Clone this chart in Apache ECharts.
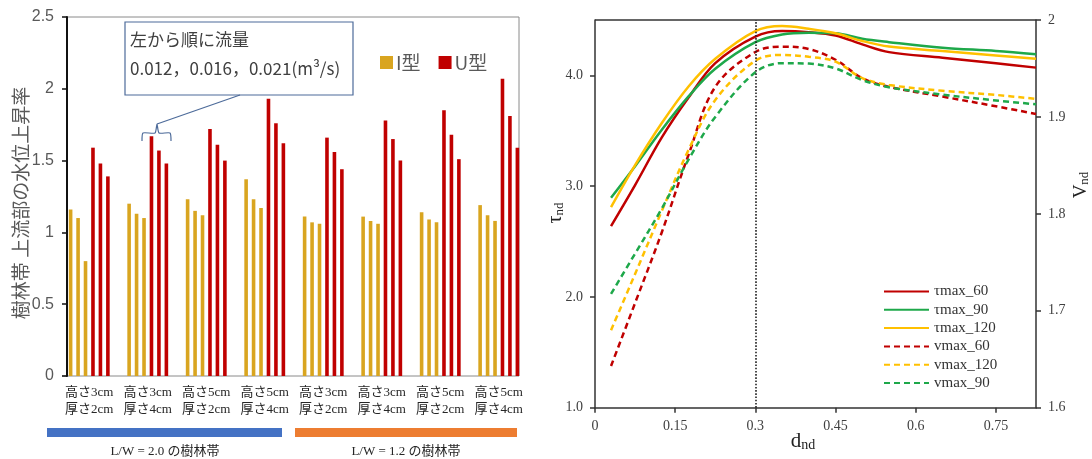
<!DOCTYPE html>
<html>
<head>
<meta charset="utf-8">
<script src="https://cdn.jsdelivr.net/npm/echarts@6/dist/echarts.min.js"></script>
<style>
	body { margin: 0; background: #fff; }
	#main { width: 1092px; height: 459px; }
</style>
</head>
<body>
<div id="main"></div>
<script>
// 左：樹林帯ごとの水位上昇率（流量 0.012, 0.016, 0.021 の順）
const groupLabels = ['高さ3cm\n厚さ2cm', '高さ3cm\n厚さ4cm', '高さ5cm\n厚さ2cm', '高さ5cm\n厚さ4cm',
	'高さ3cm\n厚さ2cm', '高さ3cm\n厚さ4cm', '高さ5cm\n厚さ2cm', '高さ5cm\n厚さ4cm']
const iType = [[1.16, 1.10, 0.80], [1.20, 1.13, 1.10], [1.23, 1.15, 1.12], [1.37, 1.23, 1.17],
	[1.11, 1.07, 1.06], [1.11, 1.08, 1.06], [1.14, 1.09, 1.07], [1.19, 1.12, 1.08]]
const uType = [[1.59, 1.48, 1.39], [1.67, 1.57, 1.48], [1.72, 1.61, 1.50], [1.93, 1.76, 1.62],
	[1.66, 1.56, 1.44], [1.78, 1.65, 1.50], [1.85, 1.68, 1.51], [2.07, 1.81, 1.59]]
const leftTicks = [0, 0.5, 1, 1.5, 2, 2.5]

// 右：d_nd に対する τ_nd と V_nd
const dnd = [0.03, 0.075, 0.125, 0.175, 0.225, 0.3, 0.35, 0.4, 0.45, 0.5, 0.55, 0.65, 0.75, 0.825]
const tau60 = [2.64, 3.01, 3.44, 3.80, 4.11, 4.35, 4.40, 4.39, 4.36, 4.28, 4.21, 4.16, 4.11, 4.07]
const tau90 = [2.895, 3.18, 3.51, 3.81, 4.06, 4.30, 4.37, 4.385, 4.38, 4.33, 4.30, 4.25, 4.22, 4.19]
const tau120 = [2.81, 3.19, 3.57, 3.90, 4.15, 4.40, 4.445, 4.42, 4.38, 4.31, 4.26, 4.22, 4.18, 4.15]
const v60 = [1.643, 1.708, 1.781, 1.861, 1.931, 1.967, 1.9725, 1.970, 1.959, 1.940, 1.931, 1.921, 1.911, 1.903]
const v120 = [1.680, 1.738, 1.803, 1.866, 1.9175, 1.958, 1.964, 1.962, 1.957, 1.940, 1.933, 1.927, 1.9227, 1.9186]
const v90 = [1.7175, 1.759, 1.8055, 1.856, 1.90, 1.946, 1.9555, 1.955, 1.950, 1.938, 1.9306, 1.923, 1.917, 1.913]

const gold = '#d9a520'
const darkRed = '#c00000'
const cRed = '#c00000'
const cGreen = '#1ea84a'
const cYellow = '#ffc000'
const serif = 'Liberation Serif, Noto Sans CJK JP'
const jp = 'Noto Sans CJK JP'

let myChart = echarts.init(document.getElementById('main'))

function pair(ys) {
	return dnd.map(function(x, i) { return [x, ys[i]] })
}

let series = []
for (let f = 0; f < 3; f++) {
	series.push({
		name: 'I型', type: 'bar', xAxisIndex: 0, yAxisIndex: 0,
		barWidth: 3.6, barGap: '107%',
		itemStyle: { color: gold },
		data: iType.map(function(g) { return g[f] })
	})
}
for (let f = 0; f < 3; f++) {
	series.push({
		name: 'U型', type: 'bar', xAxisIndex: 0, yAxisIndex: 0,
		barWidth: 3.6, barGap: '107%',
		itemStyle: { color: darkRed },
		data: uType.map(function(g) { return g[f] })
	})
}

function line(name, data, color, dashed, axis) {
	return {
		name: name, type: 'line', xAxisIndex: 1, yAxisIndex: axis,
		smooth: 0.35, symbol: 'none',
		lineStyle: { color: color, width: 2.5, type: dashed ? [6, 4] : 'solid' },
		itemStyle: { color: color },
		data: pair(data)
	}
}
let tauLine60 = line('τmax_60', tau60, cRed, false, 1)
tauLine60.markLine = {
	silent: true, symbol: 'none', label: { show: false },
	lineStyle: { color: '#222', type: 'dotted', width: 1.6 },
	data: [{ xAxis: 0.3 }]
}
series.push(tauLine60)
series.push(line('τmax_90', tau90, cGreen, false, 1))
series.push(line('τmax_120', tau120, cYellow, false, 1))
series.push(line('vmax_60', v60, cRed, true, 2))
series.push(line('vmax_120', v120, cYellow, true, 2))
series.push(line('vmax_90', v90, cGreen, true, 2))

const boxColor = '#4d6b9a'

var option = {
	animation: false,
	backgroundColor: '#fff',
	grid: [
		{ left: 60, top: 17, width: 468, height: 359 },
		{ left: 595, top: 20, width: 441, height: 387.7 }
	],
	legend: [{
		data: ['I型', 'U型'],
		left: 375, top: 48,
		icon: 'rect', itemWidth: 13, itemHeight: 13, itemGap: 18,
		textStyle: { fontFamily: jp, fontSize: 19, color: '#595959', padding: [0, 0, 0, -2] }
	}, {
		data: ['τmax_60', 'τmax_90', 'τmax_120', 'vmax_60', 'vmax_120', 'vmax_90'],
		orient: 'vertical', left: 878, top: 279,
		itemWidth: 45, itemHeight: 14, itemGap: 3.3,
		itemStyle: { opacity: 0 },
		textStyle: { fontFamily: serif, fontSize: 15, color: '#333' }
	}],
	xAxis: [{
		type: 'category', gridIndex: 0,
		data: groupLabels,
		axisLine: { show: false },
		axisTick: { show: false },
		axisLabel: { interval: 0, margin: 8, fontFamily: serif, fontSize: 13, lineHeight: 17, color: '#262626' }
	}, {
		type: 'value', gridIndex: 1,
		min: 0, max: 0.825, interval: 0.15,
		splitLine: { show: false },
		axisLine: { lineStyle: { color: '#333', width: 1.5 } },
		axisTick: { length: 5, lineStyle: { color: '#333', width: 1.5 } },
		axisLabel: { showMaxLabel: false, margin: 12, fontFamily: serif, fontSize: 14, color: '#404040' }
	}],
	yAxis: [{
		type: 'value', gridIndex: 0, offset: -7,
		min: leftTicks[0], max: leftTicks[leftTicks.length - 1], interval: 0.5,
		splitLine: { show: false },
		axisLine: { show: true, lineStyle: { color: '#111', width: 2 } },
		axisTick: { show: true, length: 5, lineStyle: { color: '#111', width: 1.5 } },
		axisLabel: { margin: 13, fontFamily: 'Liberation Sans', fontSize: 16, color: '#595959' }
	}, {
		type: 'value', gridIndex: 1,
		min: 1, max: 4.5, interval: 1,
		splitLine: { show: false },
		axisLine: { show: true, lineStyle: { color: '#333', width: 1.5 } },
		axisTick: { show: true, length: 5, lineStyle: { color: '#333', width: 1.5 } },
		axisLabel: {
			showMaxLabel: false, margin: 12, fontFamily: serif, fontSize: 14, color: '#404040',
			formatter: function(v) { return v.toFixed(1) }
		}
	}, {
		type: 'value', gridIndex: 1, position: 'right',
		min: 1.6, max: 2.0, interval: 0.1,
		splitLine: { show: false },
		axisLine: { show: true, lineStyle: { color: '#333', width: 1.5 } },
		axisTick: { show: true, length: 5, lineStyle: { color: '#333', width: 1.5 } },
		axisLabel: { margin: 12, fontFamily: serif, fontSize: 14, color: '#404040' }
	}],
	graphic: [
		// 左グラフの枠
		{ type: 'polyline', silent: true, shape: { points: [[62, 376], [519, 376], [519, 17], [67, 17]] },
			style: { stroke: '#8a8a8a', lineWidth: 1, fill: null } },
		{ type: 'text', silent: true, x: 21, y: 203, rotation: Math.PI / 2,
			style: { text: '樹林帯 上流部の水位上昇率', font: '19px "Noto Sans CJK JP"', fill: '#595959', align: 'center', verticalAlign: 'middle' } },
		// 吹き出し
		{ type: 'rect', silent: true, shape: { x: 125, y: 22, width: 228, height: 73 },
			style: { fill: '#fff', stroke: boxColor, lineWidth: 1.2 } },
		{ type: 'text', silent: true, x: 130, y: 40,
			style: { text: '左から順に流量', font: '17px "Noto Sans CJK JP"', fill: '#404040', verticalAlign: 'middle' } },
		{ type: 'text', silent: true, x: 130, y: 69,
			style: { text: '0.012，0.016，0.021(m³/s)', font: '17px "Noto Sans CJK JP"', fill: '#404040', verticalAlign: 'middle' } },
		{ type: 'polyline', silent: true, shape: { points: [[240, 95], [157, 124]] },
			style: { stroke: boxColor, lineWidth: 1.2, fill: null } },
		{ type: 'polyline', silent: true,
			shape: { points: [[142, 141], [143, 133], [155, 133], [157, 124], [159, 133], [170, 133], [171, 141]], smooth: 0.2 },
			style: { stroke: boxColor, lineWidth: 1.2, fill: null } },
		// 下の帯
		{ type: 'rect', silent: true, shape: { x: 47, y: 428, width: 235, height: 9 }, style: { fill: '#4472c4' } },
		{ type: 'rect', silent: true, shape: { x: 295, y: 428, width: 222, height: 9 }, style: { fill: '#ed7d31' } },
		{ type: 'text', silent: true, x: 165, y: 452,
			style: { text: 'L/W = 2.0 の樹林帯', font: '13px "Liberation Serif", "Noto Sans CJK JP"', fill: '#262626', align: 'center', verticalAlign: 'middle' } },
		{ type: 'text', silent: true, x: 406, y: 452,
			style: { text: 'L/W = 1.2 の樹林帯', font: '13px "Liberation Serif", "Noto Sans CJK JP"', fill: '#262626', align: 'center', verticalAlign: 'middle' } },
		// 右グラフ上枠と軸名
		{ type: 'line', silent: true, shape: { x1: 595, y1: 20, x2: 1036, y2: 20 },
			style: { stroke: '#333', lineWidth: 1.5 } },
		{ type: 'text', silent: true, x: 556, y: 213, rotation: Math.PI / 2,
			style: { text: '{a|τ}{b|nd}', align: 'center', verticalAlign: 'middle',
				rich: { a: { fontFamily: serif, fontSize: 20, fill: '#222' }, b: { fontFamily: serif, fontSize: 13, fill: '#222', padding: [8, 0, 0, 0] } } } },
		{ type: 'text', silent: true, x: 1081, y: 185, rotation: Math.PI / 2,
			style: { text: '{a|V}{b|nd}', align: 'center', verticalAlign: 'middle',
				rich: { a: { fontFamily: serif, fontSize: 19, fill: '#222' }, b: { fontFamily: serif, fontSize: 13, fill: '#222', padding: [8, 0, 0, 0] } } } },
		{ type: 'text', silent: true, x: 803, y: 441,
			style: { text: '{a|d}{b|nd}', align: 'center', verticalAlign: 'middle',
				rich: { a: { fontFamily: serif, fontSize: 21, fill: '#222' }, b: { fontFamily: serif, fontSize: 14, fill: '#222', padding: [9, 0, 0, 0] } } } }
	],
	series: series
}

myChart.setOption(option)
</script>
</body>
</html>
